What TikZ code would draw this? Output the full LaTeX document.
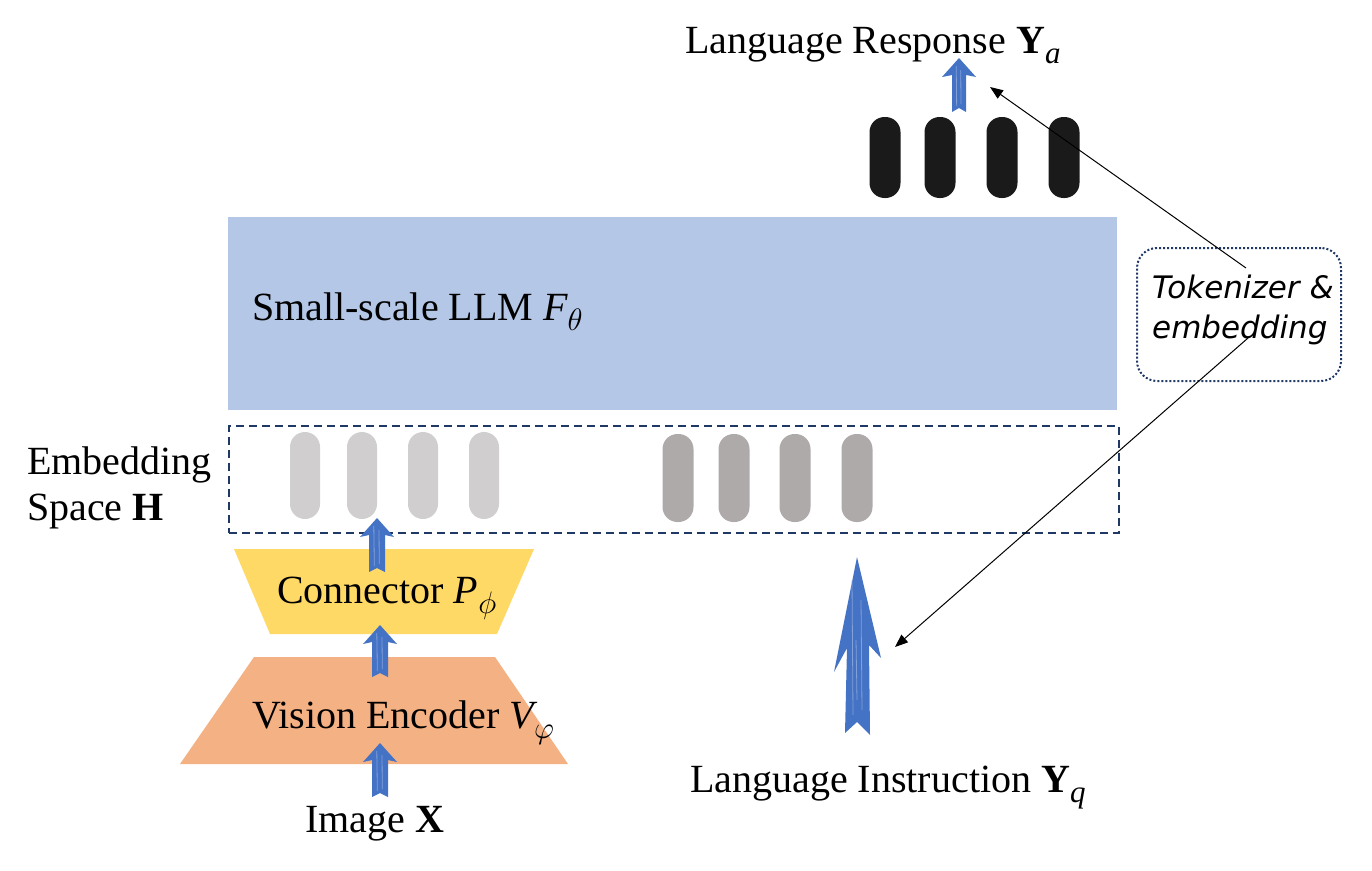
\documentclass[tikz,border=0pt]{standalone}
\usepackage{fix-cm}
\usepackage{fontspec}
\setmainfont{Liberation Serif}
\newfontfamily\handfont{DejaVu Sans}
\usetikzlibrary{arrows.meta}
\definecolor{llmblue}{HTML}{B4C7E7}
\definecolor{navy}{HTML}{1F3864}
\definecolor{connyellow}{HTML}{FFD966}
\definecolor{visorange}{HTML}{F4B183}
\definecolor{pilllight}{HTML}{D0CECE}
\definecolor{pilldark}{HTML}{AEAAAA}
\definecolor{pillblack}{HTML}{1A1A1A}
\definecolor{arrowblue}{HTML}{4472C4}
\definecolor{streak}{HTML}{9DB5E3}
\newcommand\lsub[1]{\raisebox{-0.25em}{\fontsize{31}{31}\selectfont #1}}
% block arrow: cx, ytop, ybot, headw, shaftw, headh
\newcommand\blockarrow[6]{%
  \fill[arrowblue] (#1,#2) -- ({#1+#4/2},{#2+#6}) -- ({#1+#5/2},{#2+#6-2}) -- ({#1+#5/2},#3)
    -- (#1,{#3-4}) -- ({#1-#5/2},#3) -- ({#1-#5/2},{#2+#6-2}) -- ({#1-#4/2},{#2+#6}) -- cycle;
  \draw[streak, line width=0.8pt, opacity=0.7] ({#1-#5/5},{#2+8}) -- ({#1-#5/6},{#3-6})
    ({#1+#5/8},{#2+12}) -- ({#1+#5/7},{#3-8});
}
\tikzset{
  txt/.style={inner sep=0pt, font=\fontsize{40}{46}\selectfont},
  thinarrow/.style={line width=1pt, -{Triangle[length=13pt,width=10pt]}},
}
\begin{document}
\begin{tikzpicture}[x=1pt, y=-1pt]
\useasboundingbox (0,0) rectangle (1372,870);

% LLM block
\node[fill=llmblue, minimum width=889pt, minimum height=193pt, inner sep=0pt, anchor=north west] (llm) at (228,217) {};
\node[txt, anchor=base west] (llmtxt) at (252,320) {Small-scale LLM {\itshape F}\lsub{$\theta$}};

% Embedding space
\node[draw=navy, dashed, dash pattern=on 8pt off 5pt, line width=1.6pt, minimum width=890pt, minimum height=107pt, inner sep=0pt, anchor=north west] (emb) at (228,425) {};
\node[txt, anchor=base west] (embtxt1) at (27,474) {Embedding};
\node[txt, anchor=base west] (embtxt2) at (27,520) {Space \textbf{H}};

% light pills
\foreach \x in {305,362,423,484}
  \fill[pilllight, rounded corners=15pt] (\x-15,432) rectangle (\x+15,519);
% dark pills
\foreach \x in {678,734,795,857}
  \fill[pilldark, rounded corners=15pt] (\x-15.5,434) rectangle (\x+15.5,522);
% black pills
\foreach \x in {885,940,1002,1064}
  \fill[pillblack, rounded corners=15pt] (\x-15.5,117) rectangle (\x+15.5,198);

% Connector trapezoid
\fill[connyellow] (234,549) -- (534,549) -- (497,634) -- (270,634) -- cycle;
\node[txt, anchor=base west] (conntxt) at (277,603) {Connector {\itshape P}\lsub{$\phi$}};

% Vision encoder trapezoid
\fill[visorange] (254,657) -- (495,657) -- (568,764) -- (180,764) -- cycle;
\node[txt, anchor=base west] (vistxt) at (252,728) {Vision Encoder {\itshape V}\lsub{$\varphi$}};

\node[txt, anchor=base west] (imgtxt) at (305,832) {Image \textbf{X}};

% small block arrows
\blockarrow{377}{518}{572}{34}{16}{19}
\blockarrow{380}{625}{677}{34}{16}{19}
\blockarrow{380}{743}{797}{34}{16}{19}
\blockarrow{959}{58}{112}{34}{14}{19}

% big instruction arrow
\fill[arrowblue] (857,557) -- (881,658) -- (869,645) -- (870,735) -- (857,722) -- (845,733) -- (847,648) -- (834,672) -- cycle;
\draw[streak, line width=0.8pt, opacity=0.7] (852,580) -- (853,715) (861,600) -- (862,710) (856,640) -- (857,700);

\node[txt, anchor=base west] (resptxt) at (685,53) {Language Response \textbf{Y}\lsub{\itshape a}};
\node[txt, anchor=base west] (insttxt) at (690,792) {Language Instruction \textbf{Y}\lsub{\itshape q}};

% tokenizer box
\node[draw=navy, dotted, line width=2pt, rounded corners=20pt, minimum width=204pt, minimum height=133pt, inner sep=0pt, anchor=north west] (tok) at (1136,247) {};
\node[inner sep=0pt, anchor=base west, font=\handfont\itshape\fontsize{31}{36}\selectfont] (toktxt1) at (1152,298) {Tokenizer \&};
\node[inner sep=0pt, anchor=base west, font=\handfont\itshape\fontsize{31}{36}\selectfont] (toktxt2) at (1152,338) {embedding};

\coordinate (tokA) at (1246,268);
\coordinate (tokB) at (1248,338);
\coordinate (respT) at (990,87);
\coordinate (instT) at (895,647);
\draw[thinarrow] (tokA) -- (respT);
\draw[thinarrow] (tokB) -- (instT);
\end{tikzpicture}
\end{document}
